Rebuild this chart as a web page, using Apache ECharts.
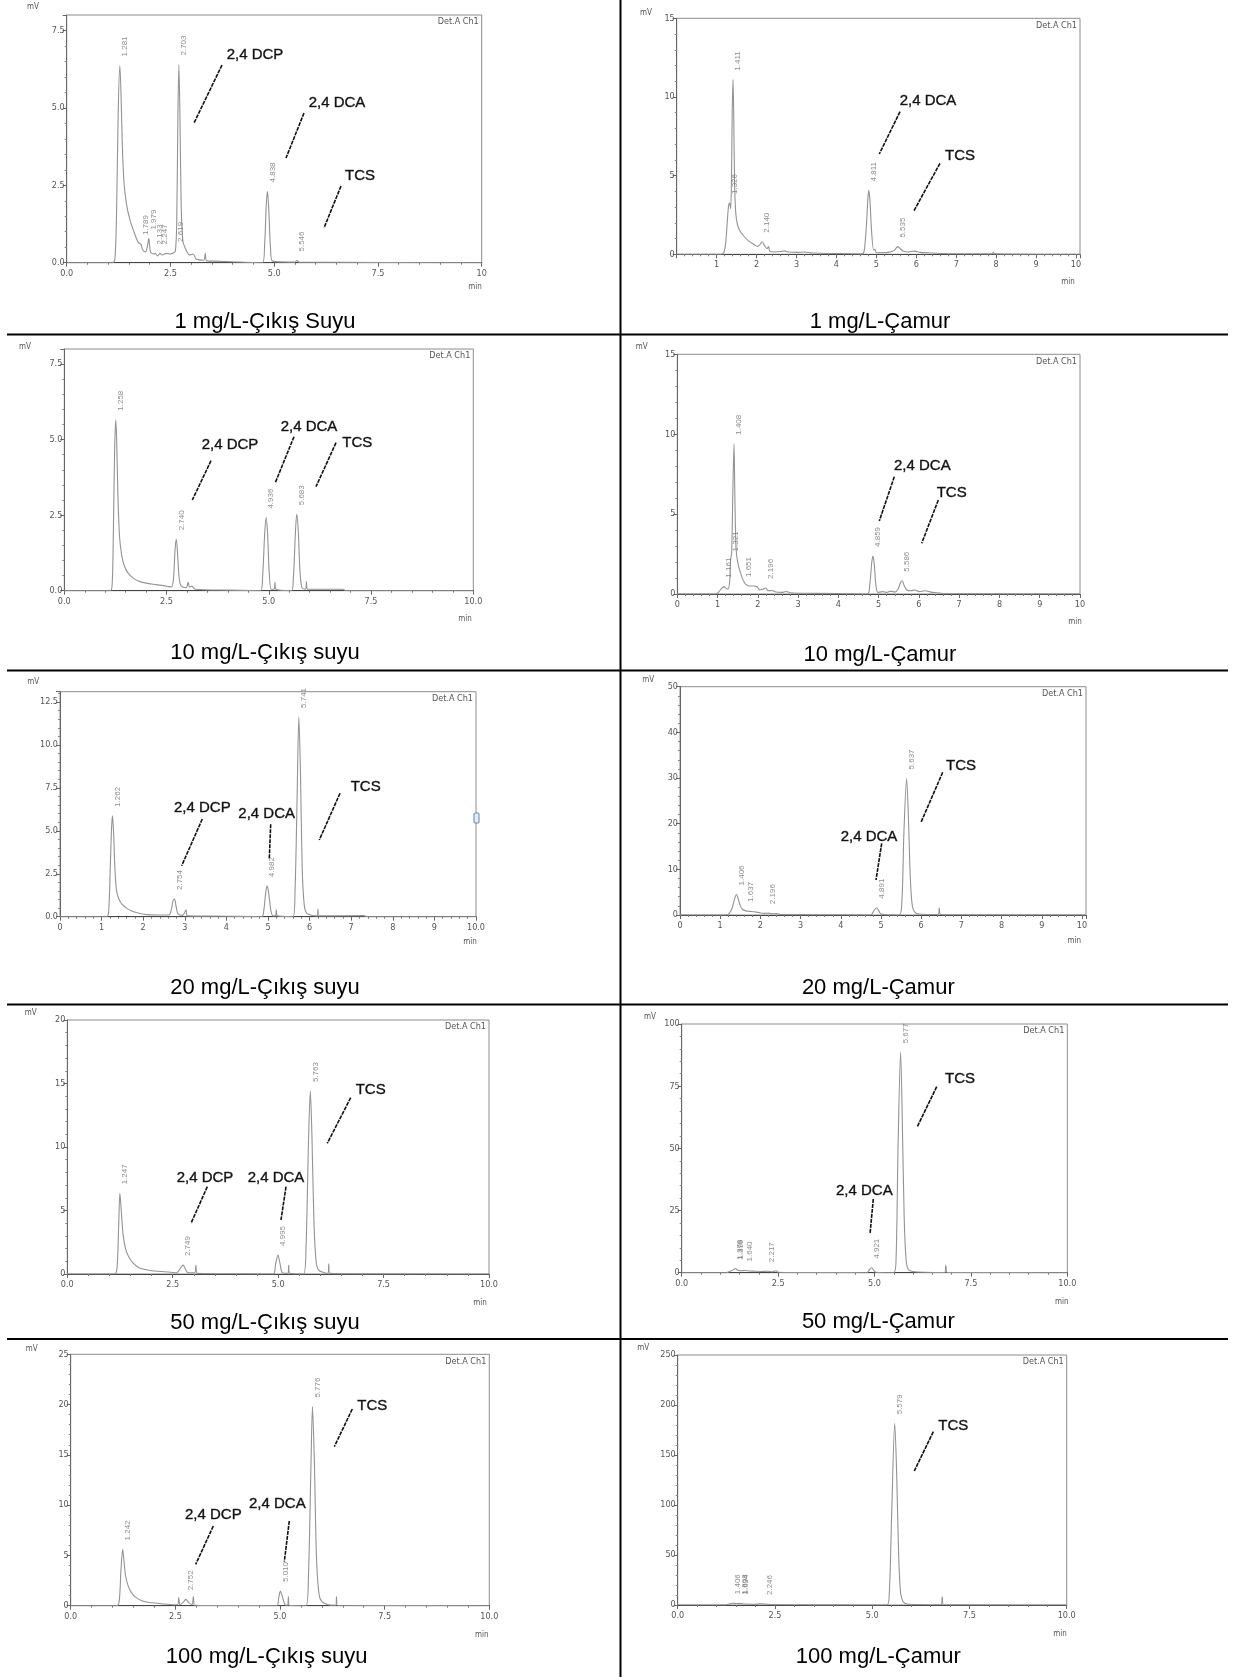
<!DOCTYPE html>
<html>
<head>
<meta charset="utf-8">
<title>Kromatogramlar</title>
<script src="https://cdn.jsdelivr.net/npm/echarts@6/dist/echarts.min.js"></script>
<style>
html, body { margin: 0; padding: 0; background: #fff; }
#chart { width: 1233px; height: 1677px; }
</style>
</head>
<body>
<div id="chart"></div>
<script>
// captions, row by row: left = effluent, right = sludge
const captions = [
    '1 mg/L-Çıkış Suyu', '1 mg/L-Çamur',
    '10 mg/L-Çıkış suyu', '10 mg/L-Çamur',
    '20 mg/L-Çıkış suyu', '20 mg/L-Çamur',
    '50 mg/L-Çıkış suyu', '50 mg/L-Çamur',
    '100 mg/L-Çıkış suyu', '100 mg/L-Çamur',
]

// chromatogram traces, [time (min), signal (mV)]
const trace1Out = [[0,0],[1.10,0],[1.16,0.1],[1.20,1.5],[1.24,4.8],[1.281,6.37],[1.31,5.4],[1.34,3.8],[1.38,2.6],[1.44,1.9],[1.52,1.4],[1.62,1.0],[1.70,0.72],[1.75,0.62],[1.789,0.6],[1.83,0.42],[1.90,0.35],[1.94,0.5],[1.979,0.78],[2.02,0.35],[2.10,0.28],[2.133,0.3],[2.19,0.22],[2.247,0.3],[2.30,0.25],[2.40,0.3],[2.50,0.28],[2.58,0.32],[2.619,0.38],[2.65,1.2],[2.68,4.8],[2.703,6.4],[2.73,4.6],[2.76,1.8],[2.80,0.7],[2.88,0.4],[2.96,0.25],[3.05,0.28],[3.12,0.12],[3.30,0.08],[3.34,0.3],[3.37,0.06],[3.60,0.05],[4.00,0.03],[4.72,0],[4.77,0.6],[4.81,1.9],[4.838,2.3],[4.87,1.7],[4.91,0.5],[4.96,0.05],[5.50,0.02],[5.546,0.07],[5.60,0.02],[10,0]]
const trace1Sludge = [[0,0],[1.10,0],[1.18,0.1],[1.23,0.8],[1.27,2.2],[1.30,3.1],[1.326,3.26],[1.35,2.9],[1.37,4.5],[1.39,9.0],[1.411,11.1],[1.43,8.5],[1.45,4.5],[1.48,2.6],[1.52,1.9],[1.58,1.5],[1.70,1.1],[1.80,0.85],[1.92,0.65],[2.02,0.5],[2.08,0.6],[2.140,0.8],[2.20,0.55],[2.26,0.35],[2.30,0.5],[2.33,0.2],[2.45,0.15],[2.60,0.18],[2.70,0.22],[2.80,0.15],[3.00,0.12],[3.20,0.15],[3.40,0.08],[4.00,0.05],[4.65,0.03],[4.70,0.3],[4.75,1.8],[4.79,3.6],[4.811,4.06],[4.84,3.4],[4.88,1.5],[4.93,0.3],[4.97,0.3],[5.00,0.1],[5.30,0.12],[5.45,0.25],[5.535,0.49],[5.60,0.35],[5.68,0.2],[5.80,0.15],[5.95,0.2],[6.10,0.12],[6.30,0.1],[6.60,0.05],[7.90,0.03],[7.93,0.12],[7.96,0.03],[10.1,0]]
const trace10Out = [[0,0],[1.12,0],[1.17,0.2],[1.20,2.0],[1.23,4.6],[1.258,5.66],[1.28,5.0],[1.31,3.2],[1.35,1.8],[1.40,1.2],[1.46,0.85],[1.55,0.6],[1.70,0.4],[1.85,0.3],[2.00,0.25],[2.25,0.2],[2.50,0.15],[2.62,0.12],[2.67,0.4],[2.71,1.4],[2.740,1.70],[2.77,1.2],[2.81,0.4],[2.86,0.15],[2.98,0.1],[3.03,0.28],[3.06,0.12],[3.12,0.15],[3.20,0.05],[4.00,0.02],[4.80,0],[4.85,0.5],[4.90,1.9],[4.936,2.42],[4.97,1.9],[5.01,0.6],[5.06,0.05],[5.13,0.05],[5.15,0.28],[5.17,0.05],[5.55,0],[5.60,0.4],[5.65,1.9],[5.683,2.53],[5.72,2.0],[5.76,0.7],[5.81,0.1],[5.90,0.05],[5.92,0.3],[5.94,0.05],[6.80,0.05],[6.90,0],[10,0]]
const trace10Sludge = [[0,0],[0.95,0],[1.02,0.1],[1.10,0.35],[1.161,0.46],[1.21,0.35],[1.26,0.3],[1.30,0.8],[1.321,2.1],[1.35,2.6],[1.38,6.5],[1.408,9.4],[1.43,6.0],[1.46,2.8],[1.50,2.0],[1.56,1.4],[1.63,0.9],[1.70,0.6],[1.78,0.5],[1.90,0.5],[1.98,0.45],[2.05,0.25],[2.12,0.3],[2.196,0.38],[2.25,0.2],[2.35,0.22],[2.45,0.12],[2.60,0.1],[2.70,0.16],[2.80,0.08],[3.00,0.05],[4.00,0.03],[4.72,0],[4.78,0.6],[4.83,2.0],[4.859,2.38],[4.89,1.9],[4.93,0.6],[4.98,0.1],[5.10,0.15],[5.20,0.1],[5.30,0.18],[5.40,0.12],[5.48,0.3],[5.55,0.75],[5.586,0.83],[5.63,0.55],[5.70,0.25],[5.80,0.2],[5.90,0.25],[6.00,0.15],[6.15,0.2],[6.30,0.12],[6.45,0.08],[6.60,0.03],[10,0]]
const trace20Out = [[0,0],[1.12,0],[1.17,0.3],[1.21,3.0],[1.24,5.2],[1.262,5.87],[1.29,4.8],[1.32,2.8],[1.36,1.5],[1.42,1.0],[1.50,0.7],[1.60,0.5],[1.75,0.3],[1.90,0.2],[2.10,0.12],[2.40,0.1],[2.62,0.1],[2.67,0.35],[2.72,0.95],[2.754,1.03],[2.79,0.6],[2.84,0.15],[2.95,0.08],[3.03,0.4],[3.06,0.05],[4.00,0.03],[4.85,0],[4.90,0.4],[4.95,1.5],[4.982,1.78],[5.02,1.3],[5.07,0.35],[5.12,0.05],[5.18,0.05],[5.20,0.4],[5.22,0.05],[5.60,0],[5.65,1.5],[5.70,7.0],[5.741,11.63],[5.78,8.5],[5.82,3.0],[5.87,0.7],[5.93,0.2],[6.05,0.08],[6.18,0.05],[6.20,0.45],[6.22,0.05],[7.30,0.06],[7.40,0],[10,0]]
const trace20Sludge = [[0,0],[1.15,0],[1.22,0.3],[1.30,1.6],[1.36,3.6],[1.406,4.5],[1.45,3.5],[1.50,2.0],[1.56,1.2],[1.637,0.9],[1.72,0.8],[1.85,0.7],[2.00,0.45],[2.10,0.35],[2.196,0.4],[2.30,0.25],[2.40,0.3],[2.50,0.12],[3.00,0.08],[4.00,0.05],[4.75,0],[4.82,0.9],[4.891,1.6],[4.94,1.0],[5.00,0.2],[5.45,0],[5.52,3.0],[5.57,18.0],[5.637,29.9],[5.68,22.0],[5.73,8.0],[5.78,2.0],[5.85,0.5],[6.00,0.15],[6.42,0.1],[6.45,1.5],[6.48,0.1],[7.00,0.05],[10.1,0]]
const trace50Out = [[0,0],[1.12,0],[1.18,0.5],[1.22,4.0],[1.247,6.35],[1.28,5.0],[1.32,3.2],[1.38,2.0],[1.45,1.4],[1.55,0.9],[1.70,0.5],[1.85,0.35],[2.00,0.25],[2.25,0.2],[2.50,0.12],[2.60,0.1],[2.65,0.3],[2.70,0.55],[2.749,0.7],[2.80,0.4],[2.86,0.1],[3.02,0.1],[3.05,0.7],[3.08,0.05],[4.00,0.02],[4.88,0],[4.94,0.8],[4.995,1.5],[5.04,0.9],[5.10,0.1],[5.23,0.05],[5.25,0.7],[5.27,0.05],[5.60,0],[5.66,2.0],[5.72,10.5],[5.763,14.4],[5.80,11.0],[5.85,4.0],[5.90,1.0],[5.96,0.3],[6.10,0.1],[6.18,0.05],[6.20,0.8],[6.22,0.05],[10,0]]
const trace50Sludge = [[0,0],[1.15,0],[1.25,0.5],[1.378,1.6],[1.399,1.7],[1.45,1.0],[1.55,0.8],[1.640,0.9],[1.75,0.7],[1.90,0.6],[2.05,0.5],[2.217,0.6],[2.35,0.4],[2.45,0.8],[2.50,0.2],[3.00,0.1],[4.00,0.05],[4.80,0],[4.87,1.2],[4.921,2.0],[4.97,1.2],[5.03,0.2],[5.50,0],[5.56,6.0],[5.61,50.0],[5.677,88.6],[5.72,62.0],[5.77,22.0],[5.82,5.0],[5.88,1.2],[6.00,0.5],[6.30,0.2],[6.82,0.1],[6.85,3.1],[6.88,0.1],[7.50,0.05],[10,0]]
const trace100Out = [[0,0],[1.10,0],[1.16,0.5],[1.20,3.5],[1.242,5.6],[1.27,4.6],[1.31,3.0],[1.37,2.0],[1.45,1.3],[1.55,0.85],[1.70,0.5],[1.85,0.35],[2.05,0.25],[2.30,0.15],[2.55,0.1],[2.58,0.8],[2.61,0.1],[2.68,0.3],[2.752,0.63],[2.82,0.3],[2.90,0.1],[2.93,0.9],[2.96,0.05],[4.00,0.02],[4.92,0],[4.97,0.8],[5.010,1.46],[5.05,1.0],[5.12,0.1],[5.18,0.05],[5.20,0.9],[5.22,0.05],[5.62,0],[5.68,3.0],[5.74,14.0],[5.776,19.8],[5.82,14.5],[5.87,5.0],[5.93,1.2],[6.00,0.4],[6.15,0.1],[6.33,0.05],[6.35,0.9],[6.37,0.05],[10,0]]
const trace100Sludge = [[0,0],[1.20,0],[1.30,0.8],[1.406,1.8],[1.50,1.5],[1.608,1.6],[1.634,1.5],[1.75,1.0],[2.00,0.6],[2.10,1.2],[2.246,1.0],[2.40,0.4],[3.00,0.2],[4.00,0.1],[5.38,0],[5.44,12.0],[5.50,90.0],[5.579,181.7],[5.63,130.0],[5.68,50.0],[5.73,12.0],[5.80,3.0],[5.90,1.0],[6.20,0.4],[6.77,0.2],[6.80,8.3],[6.83,0.2],[7.50,0.1],[10,0]]

// labelled peaks, [retention time (min), apex (mV)]
const peaks1Out = [[1.281,6.37],[1.789,0.6],[1.979,0.78],[2.133,0.3],[2.247,0.3],[2.619,0.38],[2.703,6.4],[4.838,2.3],[5.546,0.07]]
const peaks1Sludge = [[1.326,3.26],[1.411,11.1],[2.140,0.8],[4.811,4.06],[5.535,0.49]]
const peaks10Out = [[1.258,5.66],[2.740,1.70],[4.936,2.42],[5.683,2.53]]
const peaks10Sludge = [[1.161,0.46],[1.321,2.1],[1.408,9.4],[1.651,0.5],[2.196,0.38],[4.859,2.38],[5.586,0.83]]
const peaks20Out = [[1.262,5.87],[2.754,1.03],[4.982,1.78],[5.741,11.63]]
const peaks20Sludge = [[1.406,4.5],[1.637,0.9],[2.196,0.4],[4.891,1.6],[5.637,29.9]]
const peaks50Out = [[1.247,6.35],[2.749,0.7],[4.995,1.5],[5.763,14.4]]
const peaks50Sludge = [[1.378,1.6],[1.399,1.7],[1.640,0.9],[2.217,0.6],[4.921,2.0],[5.677,88.6]]
const peaks100Out = [[1.242,5.6],[2.752,0.63],[5.010,1.46],[5.776,19.8]]
const peaks100Sludge = [[1.406,1.8],[1.608,1.6],[1.634,1.5],[2.246,1.0],[5.579,181.7]]

// axis ranges and tick steps per panel
const yMax = [8, 15, 8, 15, 13.1, 50, 20, 100, 25, 250]
const yStep = [2.5, 5, 2.5, 5, 2.5, 10, 5, 25, 5, 50]
const yDecimals = [1, 0, 1, 0, 1, 0, 0, 0, 0, 0]
const xMax = [10, 10.1, 10, 10, 10, 10.1, 10, 10, 10, 10]
const xStep = [2.5, 1, 2.5, 1, 1, 1, 2.5, 2.5, 2.5, 2.5]

const traces = [trace1Out, trace1Sludge, trace10Out, trace10Sludge, trace20Out, trace20Sludge,
    trace50Out, trace50Sludge, trace100Out, trace100Sludge]
const peaks = [peaks1Out, peaks1Sludge, peaks10Out, peaks10Sludge, peaks20Out, peaks20Sludge,
    peaks50Out, peaks50Sludge, peaks100Out, peaks100Sludge]

// page layout (px): plot box, unit labels, caption, compound call-outs
const layout = [
    { box: [66.7, 15, 481.7, 262.7], mv: [33, 7], min: [475, 287], cap: [265, 322],
      notes: [['2,4 DCP', 255, 55, 222, 65, 194, 123], ['2,4 DCA', 337, 103, 304, 113, 286, 158], ['TCS', 360, 176, 341, 186, 324, 228]] },
    { box: [676.7, 18.3, 1080, 254.3], mv: [646, 12.7], min: [1068, 282], cap: [880, 322],
      notes: [['2,4 DCA', 928, 100.7, 900, 111.7, 879.3, 154], ['TCS', 960, 155.7, 940, 163.3, 914, 210.7]] },
    { box: [64.3, 349, 473.3, 590.7], mv: [25, 346.7], min: [465, 619], cap: [265, 652.7],
      notes: [['2,4 DCP', 230, 445, 211, 460.7, 192.3, 500], ['2,4 DCA', 309, 427.3, 294, 436.7, 275.3, 482.7], ['TCS', 357.3, 443.3, 336, 442.7, 316, 486.7]] },
    { box: [677.3, 354.3, 1080, 594], mv: [641.7, 347.3], min: [1075, 621.7], cap: [880, 655],
      notes: [['2,4 DCA', 922.3, 465.7, 894.3, 476.7, 879.3, 521], ['TCS', 951.7, 493.3, 938.3, 500, 921.7, 543.3]] },
    { box: [60, 691.7, 476, 916.7], mv: [33.3, 681.7], min: [470, 941.7], cap: [265, 987.7],
      notes: [['2,4 DCP', 202.3, 807.7, 202.3, 819, 181.7, 865.7], ['2,4 DCA', 266.7, 814, 270.7, 824.3, 269.3, 858.3], ['TCS', 365.7, 787.3, 340, 793.3, 319.3, 840]] },
    { box: [680, 686.7, 1086, 915], mv: [648.3, 680], min: [1074.3, 941], cap: [878.3, 988.3],
      notes: [['2,4 DCA', 869, 836.7, 881.7, 843.3, 876, 880], ['TCS', 961, 765.7, 942.7, 772.3, 921, 822.3]] },
    { box: [67.3, 1020, 489, 1274], mv: [30.7, 1013.3], min: [480, 1302.7], cap: [265, 1322.7],
      notes: [['2,4 DCP', 205, 1178.3, 207.3, 1186.7, 191, 1223.3], ['2,4 DCA', 276, 1178.3, 286, 1186.7, 281, 1220], ['TCS', 370.7, 1090, 350.7, 1097.7, 327.3, 1143.3]] },
    { box: [681.7, 1024, 1067.3, 1272.7], mv: [650, 1016.7], min: [1061.7, 1301.7], cap: [878.3, 1321.7],
      notes: [['2,4 DCA', 864.3, 1190.7, 873.3, 1199, 870, 1234], ['TCS', 960, 1079.3, 936.7, 1086.7, 917.3, 1126.7]] },
    { box: [70.7, 1354.3, 489.3, 1605.7], mv: [31.7, 1349], min: [481.7, 1635], cap: [266.7, 1656.7],
      notes: [['2,4 DCP', 213.3, 1515, 213.3, 1526, 195.7, 1564.3], ['2,4 DCA', 277.3, 1504.3, 289.3, 1521, 284.3, 1561.7], ['TCS', 372.3, 1405.7, 352.3, 1409, 334.3, 1446.7]] },
    { box: [677.7, 1355, 1066.7, 1605], mv: [643.3, 1348.3], min: [1060, 1634.3], cap: [878.3, 1656.7],
      notes: [['TCS', 953.3, 1425.7, 933.3, 1431.7, 914.3, 1471]] },
]

const narrow = "'Liberation Sans Narrow', 'DejaVu Sans Condensed', 'Liberation Sans', sans-serif"
const sans = "'Liberation Sans', Arial, sans-serif"

function xLabel(i) {
    return (v) => {
        if (i === 0 && v === 10) return '10'
        if (i === 4 && v === 10) return '10.0'
        return xStep[i] === 1 ? String(v) : v.toFixed(1)
    }
}

function txt(x, y, text, font, fill, align, extra) {
    return {
        type: 'text', x, y, silent: true,
        style: Object.assign({ text, font, fill, align: align || 'center', verticalAlign: 'middle',
                 textAlign: align || 'center', textVerticalAlign: 'middle' }, extra || {}),
    }
}

const grids = [], xAxes = [], yAxes = [], series = [], graphics = []

layout.forEach((p, i) => {
    const [l, t, r, b] = p.box
    grids.push({ left: l, top: t, width: r - l, height: b - t, show: true,
                 borderColor: '#8c8c8c', borderWidth: 1, containLabel: false })
    xAxes.push({
        type: 'value', gridIndex: i, min: 0, max: xMax[i], interval: xStep[i],
        axisLine: { show: true, onZero: false, lineStyle: { color: '#444', width: 1.2 } },
        axisTick: { show: true, length: 4, lineStyle: { color: '#666' } },
        minorTick: { show: true, splitNumber: 5, length: 2, lineStyle: { color: '#777' } },
        splitLine: { show: false },
        axisLabel: { fontSize: 9, color: '#555', margin: 6, fontFamily: narrow,
                     showMinLabel: i !== 1, showMaxLabel: xMax[i] === 10, formatter: xLabel(i) },
    })
    yAxes.push({
        type: 'value', gridIndex: i, min: 0, max: yMax[i], interval: yStep[i],
        axisLine: { show: true, lineStyle: { color: '#666', width: 1 } },
        axisTick: { show: true, length: 4, lineStyle: { color: '#666' } },
        minorTick: { show: true, splitNumber: 5, length: 2, lineStyle: { color: '#888' } },
        splitLine: { show: false },
        axisLabel: { fontSize: 9, color: '#555', margin: 2, fontFamily: narrow,
                     showMaxLabel: yMax[i] % yStep[i] === 0,
                     formatter: (v) => v.toFixed(yDecimals[i]) },
    })
    series.push({
        type: 'line', xAxisIndex: i, yAxisIndex: i, data: traces[i],
        showSymbol: false, smooth: 0.3, silent: true,
        lineStyle: { color: '#939393', width: 1.1 },
    })
    series.push({
        type: 'scatter', xAxisIndex: i, yAxisIndex: i, data: peaks[i],
        symbolSize: 0, silent: true, z: 5,
        label: {
            show: true, position: 'top', rotate: 90, align: 'left', verticalAlign: 'middle',
            offset: [4, 5], fontSize: 8, color: '#6f6f6f', fontFamily: sans,
            formatter: (d) => d.value[0].toFixed(3),
        },
    })

    graphics.push(txt(p.mv[0], p.mv[1], 'mV', '8px ' + narrow, '#555'))
    graphics.push(txt(r - 3, t + 7, 'Det.A Ch1', '9px ' + narrow, '#555', 'right'))
    graphics.push(txt(p.min[0], p.min[1], 'min', '8px ' + narrow, '#555'))
    graphics.push(txt(p.cap[0], p.cap[1], captions[i], '22px ' + sans, '#000'))
    p.notes.forEach(([name, tx, ty, x1, y1, x2, y2]) => {
        graphics.push(txt(tx, ty, name, '15px ' + sans, '#111', 'center',
                          { stroke: '#333', lineWidth: 0.4 }))
        graphics.push({ type: 'line', silent: true, shape: { x1, y1, x2, y2 },
                        style: { stroke: '#111', lineWidth: 1.6, lineDash: [4, 1] } })
    })
})

// table rules between the panels
;[334.5, 670.5, 1004.5, 1339].forEach((y) => {
    graphics.push({ type: 'line', silent: true, shape: { x1: 7, y1: y, x2: 1228, y2: y },
                    style: { stroke: '#000', lineWidth: 2 } })
})
graphics.push({ type: 'line', silent: true, shape: { x1: 620.5, y1: 0, x2: 620.5, y2: 1677 },
                style: { stroke: '#000', lineWidth: 2 } })
// small cursor handle on the 20 mg/L effluent frame
graphics.push({ type: 'rect', silent: true, shape: { x: 474, y: 813, width: 5, height: 10, r: 1 },
                style: { fill: '#e4edf8', stroke: '#5a86c0', lineWidth: 1 } })

const chart = echarts.init(document.getElementById('chart'))
chart.setOption({
    animation: false,
    backgroundColor: '#fff',
    grid: grids,
    xAxis: xAxes,
    yAxis: yAxes,
    series,
    graphic: graphics,
})
</script>
</body>
</html>
